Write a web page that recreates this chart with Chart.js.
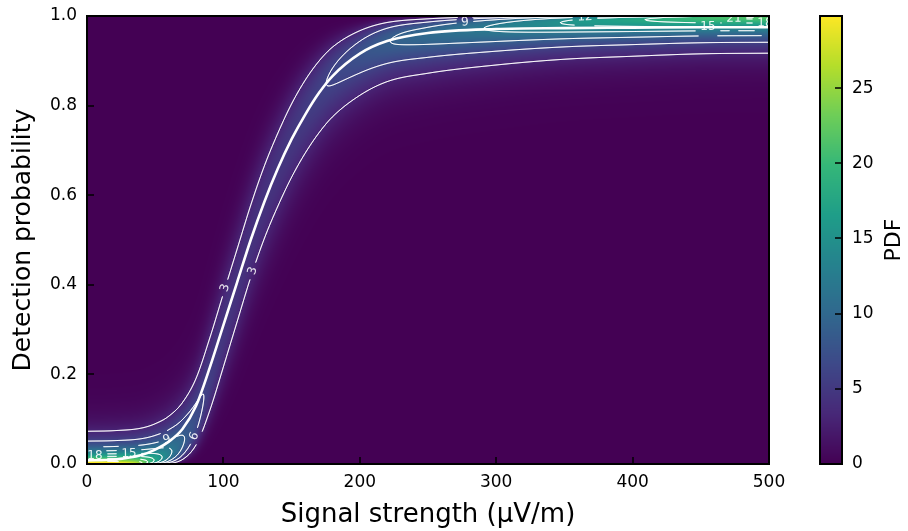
<!DOCTYPE html>
<html>
<head>
<meta charset="utf-8">
<script src="https://cdn.jsdelivr.net/npm/chart.js@4/dist/chart.umd.min.js"></script>
<style>
  html, body { margin: 0; padding: 0; background: #ffffff; }
  #wrap { width: 908px; height: 531px; position: relative; }
</style>
</head>
<body>
<div id="wrap"><canvas id="chart" width="908" height="531"></canvas></div>
<script>
// Signal strength samples (µV/m) along the detection curve
const signalStrength = [0, 20, 40, 50, 60, 70, 80, 90, 100, 110, 120, 130, 140, 150, 160, 170, 180, 200, 220, 250, 300, 350, 400, 450, 500];
// Best-fit detection probability (thick white curve)
const fitProbability = [0.008, 0.010, 0.020, 0.032, 0.050, 0.078, 0.130, 0.215, 0.310, 0.405, 0.500, 0.585, 0.660, 0.725, 0.780, 0.828, 0.866, 0.916, 0.944, 0.962, 0.971, 0.973, 0.974, 0.975, 0.975];
// Posterior mean detection probability
const meanProbability = [0.030, 0.031, 0.035, 0.042, 0.055, 0.080, 0.128, 0.212, 0.308, 0.403, 0.497, 0.580, 0.650, 0.712, 0.764, 0.807, 0.841, 0.885, 0.912, 0.928, 0.943, 0.953, 0.958, 0.962, 0.963];
// Posterior concentration (Beta precision) of the detection probability
const concentration = 30;

const contourLevels = [3, 6, 9, 12, 15, 18, 21, 24, 27];
const xTicks = [0, 100, 200, 300, 400, 500];
const yTicks = [0, 0.2, 0.4, 0.6, 0.8, 1.0];
const pdfTicks = [0, 5, 10, 15, 20, 25];
const pdfMax = 29.8;

// Inline contour labels: level and approximate location (signal, probability)
const contourLabels = [
  { level: 3, s: 99, p: 0.395 },
  { level: 3, s: 120, p: 0.433 },
  { level: 6, s: 72, p: 0.071 },
  { level: 9, s: 60, p: 0.038 },
  { level: 15, s: 31, p: 0.027 },
  { level: 18, s: 6, p: 0.022 },
  { level: 9, s: 277, p: 0.996 },
  { level: 12, s: 365, p: 0.997 },
  { level: 15, s: 455, p: 0.978 },
  { level: 21, s: 474, p: 0.995 },
  { level: 18, s: 497, p: 0.987 }
];

const FONT = 'DejaVu Sans';

// ---- helpers ----
const viridisStops = ['#440154', '#482878', '#3e4989', '#31688e', '#26828e', '#1f9e89', '#35b779', '#6ece58', '#b5de2b', '#fde725']
  .map(h => [parseInt(h.slice(1, 3), 16), parseInt(h.slice(3, 5), 16), parseInt(h.slice(5, 7), 16)]);
function viridis(t) {
  t = Math.max(0, Math.min(1, t));
  const f = t * (viridisStops.length - 1);
  const i = Math.min(viridisStops.length - 2, Math.floor(f));
  const u = f - i, a = viridisStops[i], b = viridisStops[i + 1];
  return [a[0] + (b[0] - a[0]) * u, a[1] + (b[1] - a[1]) * u, a[2] + (b[2] - a[2]) * u];
}

function lgamma(z) {
  const c = [0.99999999999980993, 676.5203681218851, -1259.1392167224028, 771.32342877765313,
    -176.61502916214059, 12.507343278686905, -0.13857109526572012, 9.9843695780195716e-6, 1.5056327351493116e-7];
  if (z < 0.5) return Math.log(Math.PI / Math.sin(Math.PI * z)) - lgamma(1 - z);
  z -= 1;
  let x = c[0];
  for (let i = 1; i < 9; i++) x += c[i] / (z + i);
  const t = z + 7.5;
  return 0.5 * Math.log(2 * Math.PI) + (z + 0.5) * Math.log(t) - t + Math.log(x);
}

// Monotone cubic (Fritsch-Carlson) through the sampled values
function monotone(xs, ys) {
  const n = xs.length, d = [], m = new Array(n);
  for (let i = 0; i < n - 1; i++) d.push((ys[i + 1] - ys[i]) / (xs[i + 1] - xs[i]));
  m[0] = d[0]; m[n - 1] = d[n - 2];
  for (let i = 1; i < n - 1; i++) m[i] = d[i - 1] * d[i] <= 0 ? 0 : (d[i - 1] + d[i]) / 2;
  for (let i = 0; i < n - 1; i++) {
    if (d[i] === 0) { m[i] = 0; m[i + 1] = 0; continue; }
    const a = m[i] / d[i], b = m[i + 1] / d[i], h = a * a + b * b;
    if (h > 9) { const t = 3 / Math.sqrt(h); m[i] = t * a * d[i]; m[i + 1] = t * b * d[i]; }
  }
  return x => {
    let i = 0;
    while (i < n - 2 && x > xs[i + 1]) i++;
    const h = xs[i + 1] - xs[i], t = Math.max(0, Math.min(1, (x - xs[i]) / h));
    const t2 = t * t, t3 = t2 * t;
    return (2 * t3 - 3 * t2 + 1) * ys[i] + (t3 - 2 * t2 + t) * h * m[i] + (-2 * t3 + 3 * t2) * ys[i + 1] + (t3 - t2) * h * m[i + 1];
  };
}
const meanAt = monotone(signalStrength, meanProbability);

// ---- density field (Beta pdf per signal strength), colour image and contours ----
let field = null;
function buildField(chart) {
  const { left, right, top, bottom } = chart.chartArea;
  const xs = chart.scales.x, ys = chart.scales.y;
  const W = Math.round(right - left), H = Math.round(bottom - top);
  const vals = new Float32Array(W * H);
  const k = concentration;
  for (let i = 0; i < W; i++) {
    const s = xs.getValueForPixel(left + i + 0.5);
    const m = meanAt(s);
    const a = m * k, b = (1 - m) * k;
    const ln = lgamma(k) - lgamma(a) - lgamma(b);
    for (let j = 0; j < H; j++) {
      let p = ys.getValueForPixel(top + j + 0.5);
      p = Math.min(1 - 1e-5, Math.max(1e-5, p));
      vals[j * W + i] = Math.exp(ln + (a - 1) * Math.log(p) + (b - 1) * Math.log(1 - p));
    }
  }
  const off = document.createElement('canvas');
  off.width = W; off.height = H;
  const octx = off.getContext('2d');
  const img = octx.createImageData(W, H);
  for (let q = 0; q < W * H; q++) {
    const c = viridis(vals[q] / pdfMax);
    img.data[4 * q] = c[0]; img.data[4 * q + 1] = c[1]; img.data[4 * q + 2] = c[2]; img.data[4 * q + 3] = 255;
  }
  octx.putImageData(img, 0, 0);
  // marching squares on pixel centres
  const segs = {};
  for (const lv of contourLevels) {
    const out = [];
    for (let j = 0; j < H - 1; j++) {
      for (let i = 0; i < W - 1; i++) {
        const v0 = vals[j * W + i], v1 = vals[j * W + i + 1], v2 = vals[(j + 1) * W + i + 1], v3 = vals[(j + 1) * W + i];
        const c = (v0 > lv ? 8 : 0) | (v1 > lv ? 4 : 0) | (v2 > lv ? 2 : 0) | (v3 > lv ? 1 : 0);
        if (c === 0 || c === 15) continue;
        const x0 = left + i + 0.5, y0 = top + j + 0.5;
        const T = [x0 + (lv - v0) / (v1 - v0), y0];
        const R = [x0 + 1, y0 + (lv - v1) / (v2 - v1)];
        const B = [x0 + (lv - v3) / (v2 - v3), y0 + 1];
        const L = [x0, y0 + (lv - v0) / (v3 - v0)];
        const add = (a, b) => out.push([a[0], a[1], b[0], b[1]]);
        switch (c) {
          case 1: case 14: add(L, B); break;
          case 2: case 13: add(B, R); break;
          case 3: case 12: add(L, R); break;
          case 4: case 11: add(T, R); break;
          case 6: case 9: add(T, B); break;
          case 7: case 8: add(L, T); break;
          case 5: add(L, T); add(B, R); break;
          case 10: add(T, R); add(L, B); break;
        }
      }
    }
    segs[lv] = out;
  }
  field = { off, segs };
}

const densityPlugin = {
  id: 'density',
  beforeDatasetsDraw(chart) {
    if (!field) buildField(chart);
    const ctx = chart.ctx, { left, top, right, bottom } = chart.chartArea;
    const xs = chart.scales.x, ys = chart.scales.y;
    ctx.save();
    ctx.drawImage(field.off, left, top);
    ctx.beginPath(); ctx.rect(left, top, right - left, bottom - top); ctx.clip();
    // place labels on the nearest contour segment
    const labels = [];
    for (const lb of contourLabels) {
      const tx = xs.getPixelForValue(lb.s), ty = ys.getPixelForValue(lb.p);
      let best = null, bd = Infinity;
      for (const sg of field.segs[lb.level]) {
        const mx = (sg[0] + sg[2]) / 2, my = (sg[1] + sg[3]) / 2;
        const d = (mx - tx) ** 2 + (my - ty) ** 2;
        if (d < bd) { bd = d; best = sg; }
      }
      if (!best || bd > 400) continue;
      let ang = Math.atan2(best[3] - best[1], best[2] - best[0]);
      if (ang > Math.PI / 2) ang -= Math.PI; if (ang < -Math.PI / 2) ang += Math.PI;
      labels.push({ x: (best[0] + best[2]) / 2, y: (best[1] + best[3]) / 2, ang, text: String(lb.level), r: 5 + 4 * String(lb.level).length });
    }
    ctx.strokeStyle = 'rgba(255,255,255,0.85)';
    ctx.lineWidth = 1;
    ctx.lineCap = 'round';
    for (const lv of contourLevels) {
      ctx.beginPath();
      for (const sg of field.segs[lv]) {
        const mx = (sg[0] + sg[2]) / 2, my = (sg[1] + sg[3]) / 2;
        if (labels.some(l => (mx - l.x) ** 2 + (my - l.y) ** 2 < l.r * l.r)) continue;
        ctx.moveTo(sg[0], sg[1]); ctx.lineTo(sg[2], sg[3]);
      }
      ctx.stroke();
    }
    ctx.fillStyle = 'rgba(255,255,255,0.9)';
    ctx.font = '12px ' + FONT;
    ctx.textAlign = 'center'; ctx.textBaseline = 'middle';
    for (const l of labels) {
      ctx.save(); ctx.translate(l.x, l.y); ctx.rotate(l.ang); ctx.fillText(l.text, 0, 0); ctx.restore();
    }
    ctx.restore();
  },
  afterDraw(chart) {
    const ctx = chart.ctx, { left, top, right, bottom } = chart.chartArea;
    const xs = chart.scales.x, ys = chart.scales.y, ps = chart.scales.pdf;
    ctx.save();
    // inward ticks and frame
    ctx.strokeStyle = '#000'; ctx.lineWidth = 1.5;
    ctx.beginPath();
    for (const v of xTicks) { const x = Math.round(xs.getPixelForValue(v)); ctx.moveTo(x, bottom); ctx.lineTo(x, bottom - 7); }
    for (const v of yTicks) { const y = Math.round(ys.getPixelForValue(v)); ctx.moveTo(left, y); ctx.lineTo(left + 7, y); }
    ctx.stroke();
    ctx.lineWidth = 2;
    ctx.strokeRect(left, top, right - left, bottom - top);
    // colour bar
    const cbL = 820, cbR = 842;
    for (let y = Math.floor(top); y < bottom; y++) {
      const c = viridis(ps.getValueForPixel(y + 0.5) / pdfMax);
      ctx.fillStyle = `rgb(${c[0] | 0},${c[1] | 0},${c[2] | 0})`;
      ctx.fillRect(cbL, y, cbR - cbL, 1);
    }
    ctx.lineWidth = 1.5;
    ctx.beginPath();
    for (const v of pdfTicks) { const y = Math.round(ps.getPixelForValue(v)); ctx.moveTo(cbR, y); ctx.lineTo(cbR - 7, y); }
    ctx.stroke();
    ctx.lineWidth = 2;
    ctx.strokeRect(cbL, top, cbR - cbL, bottom - top);
    // colour bar title
    ctx.fillStyle = '#000';
    ctx.font = '22px ' + FONT;
    ctx.textAlign = 'center'; ctx.textBaseline = 'middle';
    ctx.translate(894, (top + bottom) / 2); ctx.rotate(-Math.PI / 2);
    ctx.fillText('PDF', 0, 0);
    ctx.restore();
  }
};

const tickFont = { family: FONT, size: 17 };
// tick marks are drawn inward by the plugin; tickLength only spaces the labels
const chart = new Chart(document.getElementById('chart'), {
  type: 'scatter',
  data: {
    datasets: [{
      type: 'line',
      data: signalStrength.map((s, i) => ({ x: s, y: fitProbability[i] })),
      borderColor: '#ffffff',
      borderWidth: 2.6,
      pointRadius: 0,
      cubicInterpolationMode: 'monotone',
      fill: false,
      clip: 0
    }]
  },
  options: {
    responsive: false,
    animation: false,
    devicePixelRatio: 1,
    layout: { padding: { top: 16, left: 0, right: 0, bottom: 0 } },
    plugins: { legend: { display: false }, tooltip: { enabled: false } },
    scales: {
      x: {
        type: 'linear', min: 0, max: 500, position: 'bottom',
        afterBuildTicks: ax => { ax.ticks = xTicks.map(v => ({ value: v })); },
        afterFit: ax => { ax.height = 67; },
        grid: { display: false, drawTicks: true, tickLength: 8 },
        border: { display: false },
        ticks: { font: tickFont, color: '#000', padding: 0, maxRotation: 0 },
        title: { display: true, text: 'Signal strength (μV/m)', color: '#000', font: { family: FONT, size: 26 }, padding: { top: 0, bottom: 0 } }
      },
      y: {
        type: 'linear', min: 0, max: 1, position: 'left',
        afterBuildTicks: ax => { ax.ticks = yTicks.map(v => ({ value: v })); },
        afterFit: ax => { ax.width = 87; },
        grid: { display: false, drawTicks: true, tickLength: 10 },
        border: { display: false },
        ticks: { font: tickFont, color: '#000', padding: 0, callback: v => v.toFixed(1) },
        title: { display: true, text: 'Detection probability', color: '#000', font: { family: FONT, size: 25 }, padding: { top: 8, bottom: 0 } }
      },
      pdf: {
        type: 'linear', min: 0, max: pdfMax, position: 'right',
        afterBuildTicks: ax => { ax.ticks = pdfTicks.map(v => ({ value: v })); },
        afterFit: ax => { ax.width = 139; },
        grid: { display: false, drawTicks: true, tickLength: 83 },
        border: { display: false },
        ticks: { font: tickFont, color: '#000', padding: 0 }
      }
    }
  },
  plugins: [densityPlugin]
});
</script>
</body>
</html>
